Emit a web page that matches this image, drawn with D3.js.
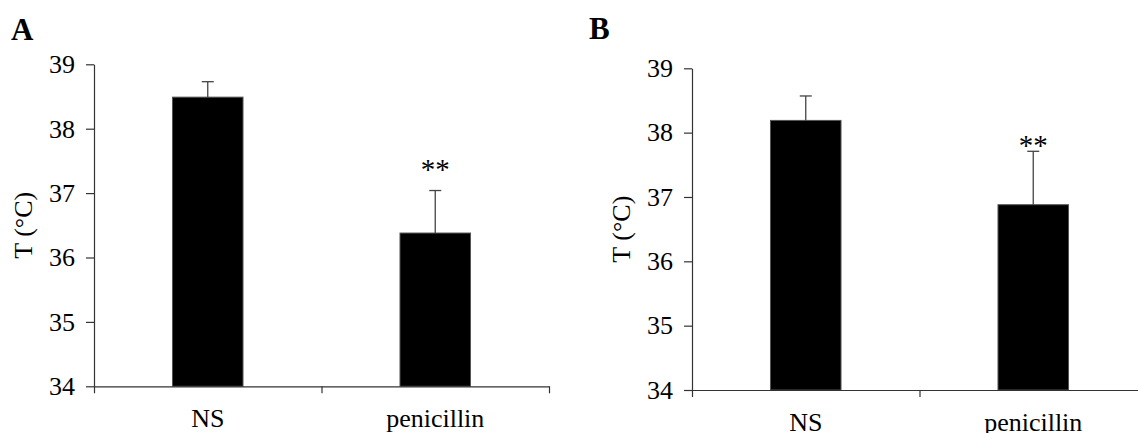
<!DOCTYPE html>
<html>
<head>
<meta charset="utf-8">
<script src="https://cdn.jsdelivr.net/npm/d3@7"></script>
<style>
  body { margin: 0; background: #fff; }
  svg text { font-family: "Liberation Serif", "Times New Roman", serif; fill: #000; }
</style>
</head>
<body>
<div id="chart"></div>
<script>
// Body temperature, NS vs penicillin
const categories = ["NS", "penicillin"];
const yTicks = [34, 35, 36, 37, 38, 39];

const panelA = [38.49, 36.38];   // mean
const errorA = [0.24, 0.66];     // +SD
const sigA = ["", "**"];
const sigAtA = [null, 37.47];

const panelB = [38.19, 36.88];
const errorB = [0.38, 0.83];
const sigB = ["", "**"];
const sigAtB = [null, 37.9];

const width = 1138;
const height = 433;

const svg = d3.select("#chart")
    .append("svg")
    .attr("width", width)
    .attr("height", height);

const axisColor = "#333";

function drawPanel(opts) {
    const { letter, letterX, letterY, x0, x1, yTop, yBottom, means, errors, sig, sigAt } = opts;

    const y = d3.scaleLinear().domain([34, 39]).range([yBottom, yTop]);
    const x = d3.scaleBand()
        .domain(categories)
        .range([x0, x1])
        .paddingInner(0.69)
        .paddingOuter(0.345);
    // category boundaries for the x-axis ticks
    const xb = d3.scaleLinear().domain([0, categories.length]).range([x0, x1]);

    const g = svg.append("g");

    // y axis
    const yAxis = g.append("g")
        .attr("transform", `translate(${x0},0)`)
        .call(d3.axisLeft(y).tickValues(yTicks).tickFormat(d3.format("d"))
            .tickSize(8).tickSizeOuter(0).tickPadding(11))
        .attr("font-family", null)
        .attr("font-size", null);
    yAxis.selectAll("text").style("font-size", "26px");
    yAxis.selectAll("line, path").attr("stroke", axisColor).attr("stroke-width", 1.2);

    // bars
    g.selectAll("rect.bar")
        .data(means)
        .join("rect")
        .attr("class", "bar")
        .attr("x", (d, i) => x(categories[i]))
        .attr("width", x.bandwidth())
        .attr("y", d => y(d))
        .attr("height", d => y(34) - y(d))
        .attr("fill", "#000")
        .attr("stroke", "#555")
        .attr("stroke-width", 1);

    // error bars (upper only)
    const cx = i => x(categories[i]) + x.bandwidth() / 2;
    g.selectAll("line.err")
        .data(means)
        .join("line")
        .attr("class", "err")
        .attr("x1", (d, i) => cx(i))
        .attr("x2", (d, i) => cx(i))
        .attr("y1", d => y(d))
        .attr("y2", (d, i) => y(d + errors[i]))
        .attr("stroke", "#444")
        .attr("stroke-width", 1.3);
    g.selectAll("line.cap")
        .data(means)
        .join("line")
        .attr("class", "cap")
        .attr("x1", (d, i) => cx(i) - 6)
        .attr("x2", (d, i) => cx(i) + 6)
        .attr("y1", (d, i) => y(d + errors[i]))
        .attr("y2", (d, i) => y(d + errors[i]))
        .attr("stroke", "#444")
        .attr("stroke-width", 1.3);

    // significance marks
    g.selectAll("text.sig")
        .data(sig)
        .join("text")
        .attr("class", "sig")
        .attr("x", (d, i) => cx(i))
        .attr("y", (d, i) => sigAt[i] === null ? 0 : y(sigAt[i]))
        .attr("dy", "0.55em")
        .attr("text-anchor", "middle")
        .style("font-size", "29px")
        .text(d => d);

    // x axis drawn on top of the bars
    const xAxis = g.append("g")
        .attr("transform", `translate(0,${y(34)})`)
        .call(d3.axisBottom(xb).tickValues(d3.range(categories.length + 1))
            .tickFormat("").tickSize(7).tickSizeOuter(0));
    xAxis.selectAll("line, path").attr("stroke", axisColor).attr("stroke-width", 1.2);

    // category labels
    g.selectAll("text.cat")
        .data(categories)
        .join("text")
        .attr("class", "cat")
        .attr("x", (d, i) => cx(i))
        .attr("y", y(34) + 41)
        .attr("text-anchor", "middle")
        .style("font-size", "26px")
        .text(d => d);

    // y label
    g.append("text")
        .attr("transform", `translate(${x0 - 62},${(yTop + yBottom) / 2}) rotate(-90)`)
        .attr("text-anchor", "middle")
        .style("font-size", "26px")
        .text("T (°C)");

    // panel letter
    g.append("text")
        .attr("x", letterX)
        .attr("y", letterY)
        .style("font-size", "31px")
        .style("font-weight", "bold")
        .text(letter);
}

drawPanel({
    letter: "A", letterX: 11, letterY: 40,
    x0: 94, x1: 549, yTop: 64.3, yBottom: 386.3,
    means: panelA, errors: errorA, sig: sigA, sigAt: sigAtA
});

drawPanel({
    letter: "B", letterX: 589, letterY: 39,
    x0: 692, x1: 1147, yTop: 68.3, yBottom: 390,
    means: panelB, errors: errorB, sig: sigB, sigAt: sigAtB
});
</script>
</body>
</html>
